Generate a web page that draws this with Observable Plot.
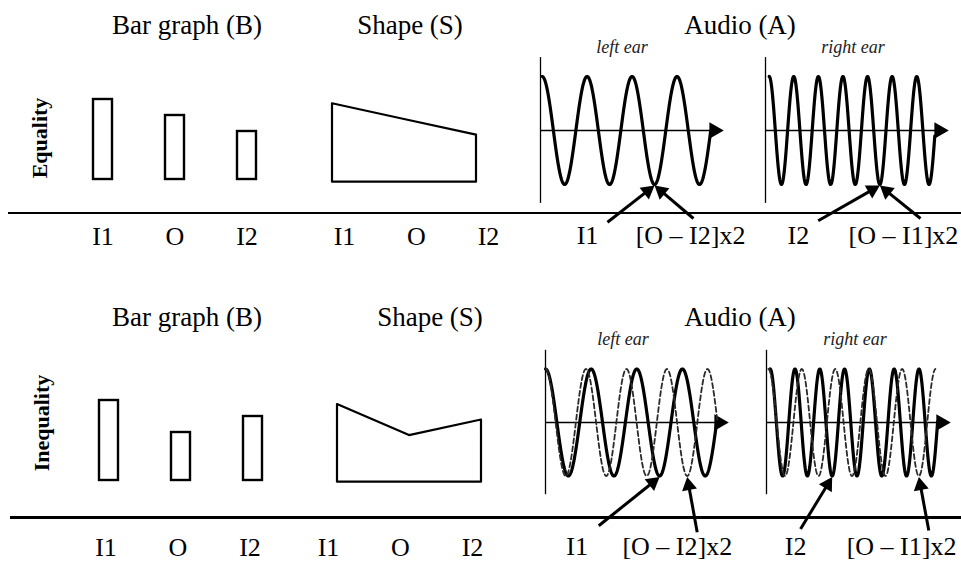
<!DOCTYPE html>
<html><head><meta charset="utf-8">
<script src="https://cdn.jsdelivr.net/npm/d3@7"></script>
<script src="https://cdn.jsdelivr.net/npm/@observablehq/plot@0.6"></script>
<style>
html,body{margin:0;padding:0;background:#fff;overflow:hidden}
#fig{position:relative;width:961px;height:561px;font-family:"Liberation Serif","Times New Roman",serif;color:#000;background:#fff}
#fig svg{position:absolute;overflow:visible}
.title{position:absolute;transform:translate(-50%,-50%);font-size:27px;white-space:nowrap;line-height:1}
.ear{position:absolute;transform:translate(-50%,-50%);font-size:18px;font-style:italic;white-space:nowrap;line-height:1;color:#222}
.rowlabel{position:absolute;transform:translate(-50%,-50%) rotate(-90deg);font-size:22px;font-weight:bold;white-space:nowrap;line-height:1}
.sep{position:absolute;height:2.5px;background:#000}
</style></head><body><div id="fig"></div>
<script>
// ---------------- data ----------------
const rows = ["Equality", "Inequality"];
const categories = ["I1", "O", "I2"];
const equalityValues = [5, 4, 3];
const inequalityValues = [5, 3, 4];
const panelTitles = ["Bar graph (B)", "Shape (S)", "Audio (A)"];
const earTitles = ["left ear", "right ear"];

// waves (time axis 0..1 = axis origin .. arrow tip, amplitude -1..1)
const waveRow   = ["Equality", "Equality", "Inequality", "Inequality", "Inequality", "Inequality"];
const waveEar   = ["left", "right", "left", "left", "right", "right"];
const waveKind  = ["solid", "solid", "solid", "dashed", "solid", "dashed"];
const waveFreq  = [4.07, 7.44, 4.01, 4.52, 7.42, 5.5];
const waveStart = [0.009, 0.02, 0, 0, 0.02, 0.01];
const waveEnd   = [0.93, 0.925, 0.935, 0.94, 0.93, 0.918];

// annotation arrows: tail position, and the wave trough they point to
const annoRow    = ["Equality", "Equality", "Equality", "Equality", "Inequality", "Inequality", "Inequality", "Inequality"];
const annoEar    = ["left", "left", "right", "right", "left", "left", "right", "right"];
const annoWave   = [0, 0, 1, 1, 2, 3, 4, 5];
const annoTrough = [2, 2, 4, 4, 2, 3, 2, 4];
const annoTailT  = [0.366, 0.836, 0.288, 0.847, 0.291, 0.829, 0.185, 0.882];
const annoTailA  = [-1.70, -1.63, -1.67, -1.63, -1.93, -2.05, -1.99, -2.02];

// audio labels
const labelRow  = ["Equality", "Equality", "Equality", "Equality", "Inequality", "Inequality", "Inequality", "Inequality"];
const labelEar  = ["left", "left", "right", "right", "left", "left", "right", "right"];
const labelText = ["I1", "[O – I2]x2", "I2", "[O – I1]x2", "I1", "[O – I2]x2", "I2", "[O – I1]x2"];
const labelT    = [0.257, 0.82, 0.18, 0.754, 0.173, 0.72, 0.158, 0.734];

// ---------------- layout (pixels) ----------------
const layout = {
  Equality: {
    rowLabel: [40, 138], titleY: 25, titleX: [187, 410, 740], earPos: [[622, 47], [853, 47]],
    sep: {y: 213, x0: 8},
    bar: {left: 0, top: 60, width: 310, height: 200, mL: 40, mT: 39, mB: 81, pad: 47.1, dx: 0},
    shape: {left: 310, top: 60, width: 220, height: 200, mL: 22.3, mR: 53.3, mT: 43.3, mB: 78.3, pad: 44.4, dx: 12},
    left: {left: 530, top: 50, width: 222, height: 200, mL: 10, mR: 29, mT: 26, mB: 66},
    right: {left: 752, top: 50, width: 209, height: 200, mL: 13, mR: 13, mT: 26, mB: 66},
    labelA: -1.95
  },
  Inequality: {
    rowLabel: [42, 423], titleY: 317, titleX: [187, 430, 740], earPos: [[623, 339], [855, 339]],
    sep: {y: 517.5, x0: 10},
    bar: {left: 0, top: 340, width: 315, height: 215, mL: 45.5, mT: 60, mB: 75, pad: 56.8, dx: -3},
    shape: {left: 310, top: 340, width: 220, height: 215, mL: 27.3, mR: 48.3, mT: 64, mB: 73.3, pad: 55.1, dx: -9},
    left: {left: 530, top: 342, width: 222, height: 215, mL: 15, mR: 24, mT: 26.5, mB: 81.5},
    right: {left: 752, top: 342, width: 209, height: 215, mL: 14, mR: 11, mT: 26.5, mB: 81.5},
    labelA: -2.33
  }
};

const fig = document.getElementById("fig");
const FONT = "'Liberation Serif','Times New Roman',serif";
function place(el, box) { el.style.left = box.left + "px"; el.style.top = box.top + "px"; fig.appendChild(el); }
function div(cls, text, x, y) { const d = document.createElement("div"); d.className = cls; d.textContent = text; d.style.left = x + "px"; d.style.top = y + "px"; fig.appendChild(d); return d; }
const svgStyle = {background: "transparent", fontFamily: FONT, overflow: "visible"};
const HEAD_R = 5.6;                                   // arrowhead triangle size
const HEAD_C = 2 * Math.sqrt(Math.PI * HEAD_R * HEAD_R / (Math.sqrt(3) * 3)); // tip-to-centre distance

rows.forEach((row) => {
  const L = layout[row];
  const values = row === "Equality" ? equalityValues : inequalityValues;
  const data = categories.map((c, i) => ({cat: c, value: values[i]}));

  // Bar graph panel
  const b = L.bar;
  place(Plot.plot({
    width: b.width, height: b.height, marginLeft: b.mL, marginRight: 0, marginTop: b.mT, marginBottom: b.mB,
    style: svgStyle,
    x: {type: "band", domain: categories, padding: 0.73},
    y: {domain: [0, 5], axis: null},
    marks: [
      Plot.barY(data, {x: "cat", y: "value", fill: "white", stroke: "black", strokeWidth: 2.4}),
      Plot.axisX({tickSize: 0, tickPadding: b.pad, fontSize: 26, dx: b.dx, label: null})
    ]
  }), b);

  // Shape panel
  const s = L.shape;
  place(Plot.plot({
    width: s.width, height: s.height, marginLeft: s.mL, marginRight: s.mR, marginTop: s.mT, marginBottom: s.mB,
    style: svgStyle,
    x: {type: "point", domain: categories, padding: 0},
    y: {domain: [0, 5], axis: null},
    marks: [
      Plot.areaY(data, {x: "cat", y: "value", fill: "white", stroke: "black", strokeWidth: 2.2}),
      Plot.axisX({tickSize: 0, tickPadding: s.pad, fontSize: 26, dx: s.dx, label: null})
    ]
  }), s);

  // Audio panels
  ["left", "right"].forEach((ear) => {
    const a = L[ear];
    const xpx = a.width - a.mL - a.mR;           // pixels per time unit
    const ypx = (a.height - a.mT - a.mB) / 2;    // pixels per amplitude unit
    const waveMarks = [];
    waveRow.forEach((r, i) => {
      if (r !== row || waveEar[i] !== ear) return;
      const f = waveFreq[i], t0 = waveStart[i], t1 = waveEnd[i], n = 500;
      const pts = d3.range(n + 1).map(j => { const t = t0 + (t1 - t0) * j / n; return {t, a: Math.cos(2 * Math.PI * f * (t - t0))}; });
      const dashed = waveKind[i] === "dashed";
      waveMarks.push(Plot.line(pts, {x: "t", y: "a", stroke: dashed ? "#2a2a2a" : "black",
        strokeWidth: dashed ? 1.8 : 3.2, strokeDasharray: dashed ? "5,3" : null}));
    });
    const arrows = [];
    annoRow.forEach((r, i) => {
      if (r !== row || annoEar[i] !== ear) return;
      const w = annoWave[i];
      const x1 = annoTailT[i], y1 = annoTailA[i];
      const x2 = waveStart[w] + (annoTrough[i] + 0.5) / waveFreq[w], y2 = -1.02;
      let sx = (x2 - x1) * xpx, sy = -(y2 - y1) * ypx;
      const len = Math.hypot(sx, sy); sx /= len; sy /= len;
      const cx = x2 - HEAD_C * sx / xpx, cy = y2 + HEAD_C * sy / ypx;
      arrows.push({x1, y1, cx, cy, rot: Math.atan2(sx, -sy) * 180 / Math.PI});
    });
    const labels = [];
    labelRow.forEach((r, i) => { if (r === row && labelEar[i] === ear) labels.push({t: labelT[i], a: L.labelA, text: labelText[i]}); });
    place(Plot.plot({
      width: a.width, height: a.height, marginLeft: a.mL, marginRight: a.mR, marginTop: a.mT, marginBottom: a.mB,
      style: svgStyle,
      x: {domain: [0, 1], axis: null},
      y: {domain: [-1, 1], axis: null},
      marks: [
        Plot.ruleX([0], {y1: -1.35, y2: 1.35, stroke: "black", strokeWidth: 1.3}),
        Plot.ruleY([0], {x1: 0, x2: 0.95, stroke: "black", strokeWidth: 1.3}),
        Plot.dot([{t: 0.949, a: 0}], {x: "t", y: "a", symbol: "triangle", rotate: 90, r: 6.2, fill: "black", stroke: "none"}),
        ...waveMarks,
        Plot.link(arrows, {x1: "x1", y1: "y1", x2: "cx", y2: "cy", stroke: "black", strokeWidth: 3}),
        Plot.dot(arrows, {x: "cx", y: "cy", rotate: "rot", symbol: "triangle", r: HEAD_R, fill: "black", stroke: "none"}),
        Plot.text(labels, {x: "t", y: "a", text: "text", fontSize: 26})
      ]
    }), a);
  });

  // titles & row label & separator
  panelTitles.forEach((t, i) => div("title", t, L.titleX[i], L.titleY));
  earTitles.forEach((t, i) => div("ear", t, L.earPos[i][0], L.earPos[i][1]));
  div("rowlabel", row, L.rowLabel[0], L.rowLabel[1]);
  const sep = document.createElement("div");
  sep.className = "sep";
  sep.style.left = L.sep.x0 + "px"; sep.style.width = (961 - L.sep.x0) + "px"; sep.style.top = (L.sep.y - 1.25) + "px";
  fig.appendChild(sep);
});
</script></body></html>
